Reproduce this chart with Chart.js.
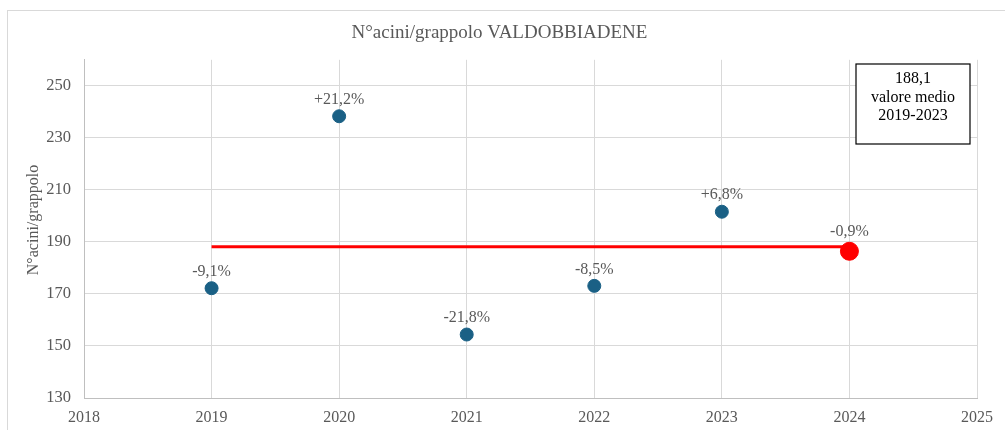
<!DOCTYPE html>
<html>
<head>
<meta charset="utf-8">
<script src="https://cdn.jsdelivr.net/npm/chart.js@4"></script>
<style>
html,body{margin:0;padding:0;background:#fff;}
#wrap{position:relative;width:1005px;height:430px;}
#frame{position:absolute;left:7px;top:10px;width:1010px;height:440px;border:1.5px solid #d9d9d9;box-sizing:border-box;}
canvas{position:absolute;left:0;top:0;}
</style>
</head>
<body>
<div id="wrap"><div id="frame"></div><canvas id="c" width="1005" height="430"></canvas></div>
<script>
const years = [2019, 2020, 2021, 2022, 2023];
const values = [172.2, 238.3, 154.4, 173.1, 201.6];
const changeLabels = ['-9,1%', '+21,2%', '-21,8%', '-8,5%', '+6,8%'];
const year2024 = [2024];
const value2024 = [186.4];
const label2024 = ['-0,9%'];
const meanValue = 188.1;
const meanYears = [2019, 2024];
const yTicks = [130, 150, 170, 190, 210, 230, 250];
const boxLines = ['188,1', 'valore medio', '2019-2023'];
const titleText = 'N°acini/grappolo VALDOBBIADENE';
const yTitle = 'N°acini/grappolo';

const FONT = "'Liberation Serif', 'Times New Roman', serif";
const GRAY = '#595959';

const labelPlugin = {
  id: 'pointLabels',
  afterDatasetsDraw(chart) {
    const ctx = chart.ctx;
    ctx.save();
    ctx.font = '16px ' + FONT;
    ctx.fillStyle = GRAY;
    ctx.textAlign = 'center';
    ctx.textBaseline = 'middle';
    chart.data.datasets.forEach((ds, i) => {
      if (!ds.pointLabels) return;
      const meta = chart.getDatasetMeta(i);
      meta.data.forEach((el, j) => {
        ctx.fillText(ds.pointLabels[j], el.x, el.y - ds.pointRadius - 10);
      });
    });
    // y axis title
    ctx.save();
    ctx.translate(34, 220);
    ctx.rotate(-Math.PI / 2);
    ctx.fillText(yTitle, 0, 0);
    ctx.restore();
    // annotation box
    const x0 = 856, y0 = 64, w = 114, h = 80;
    ctx.strokeStyle = '#000';
    ctx.lineWidth = 1.2;
    ctx.fillStyle = '#fff';
    ctx.fillRect(x0, y0, w, h);
    ctx.strokeRect(x0, y0, w, h);
    ctx.fillStyle = '#000';
    boxLines.forEach((t, k) => ctx.fillText(t, x0 + w / 2, 79 + k * 18.5));
    ctx.restore();
  }
};

new Chart(document.getElementById('c'), {
  type: 'scatter',
  data: {
    datasets: [
      {
        type: 'line',
        data: meanYears.map(x => ({x, y: meanValue})),
        borderColor: '#ff0000',
        borderWidth: 3,
        pointRadius: 0,
        fill: false,
        order: 3
      },
      {
        data: years.map((x, i) => ({x, y: values[i]})),
        backgroundColor: '#1a6085',
        borderColor: '#1a6085',
        pointRadius: 6.5,
        pointHoverRadius: 6.5,
        pointLabels: changeLabels,
        order: 2
      },
      {
        data: year2024.map((x, i) => ({x, y: value2024[i]})),
        backgroundColor: '#ff0000',
        borderColor: '#ff0000',
        pointRadius: 9,
        pointHoverRadius: 9,
        pointLabels: label2024,
        order: 1
      }
    ]
  },
  options: {
    responsive: false,
    animation: false,
    events: [],
    layout: { padding: { left: 22, right: 28, top: 0, bottom: 0 } },
    plugins: {
      legend: { display: false },
      tooltip: { enabled: false },
      title: {
        display: true,
        text: titleText,
        color: GRAY,
        font: { family: FONT, size: 19, weight: 'normal', lineHeight: 1.2 },
        padding: { top: 22, bottom: 15 }
      }
    },
    scales: {
      x: {
        type: 'linear',
        min: 2018,
        max: 2025,
        ticks: { stepSize: 1, color: GRAY, font: { family: FONT, size: 16 }, padding: 10, callback: v => String(v) },
        grid: { color: '#d9d9d9', lineWidth: 1, drawTicks: false },
        border: { color: '#bfbfbf', width: 1 },
        afterFit: s => { s.height = 32; }
      },
      y: {
        type: 'linear',
        min: 130,
        max: 260,
        afterBuildTicks: s => { s.ticks = yTicks.map(v => ({value: v})); },
        ticks: { color: GRAY, font: { family: FONT, size: 16.5 }, padding: 13 },
        grid: { color: '#d9d9d9', lineWidth: 1, drawTicks: false },
        border: { color: '#bfbfbf', width: 1 },
        afterFit: s => { s.width = 62; }
      }
    }
  },
  plugins: [labelPlugin]
});
</script>
</body>
</html>
